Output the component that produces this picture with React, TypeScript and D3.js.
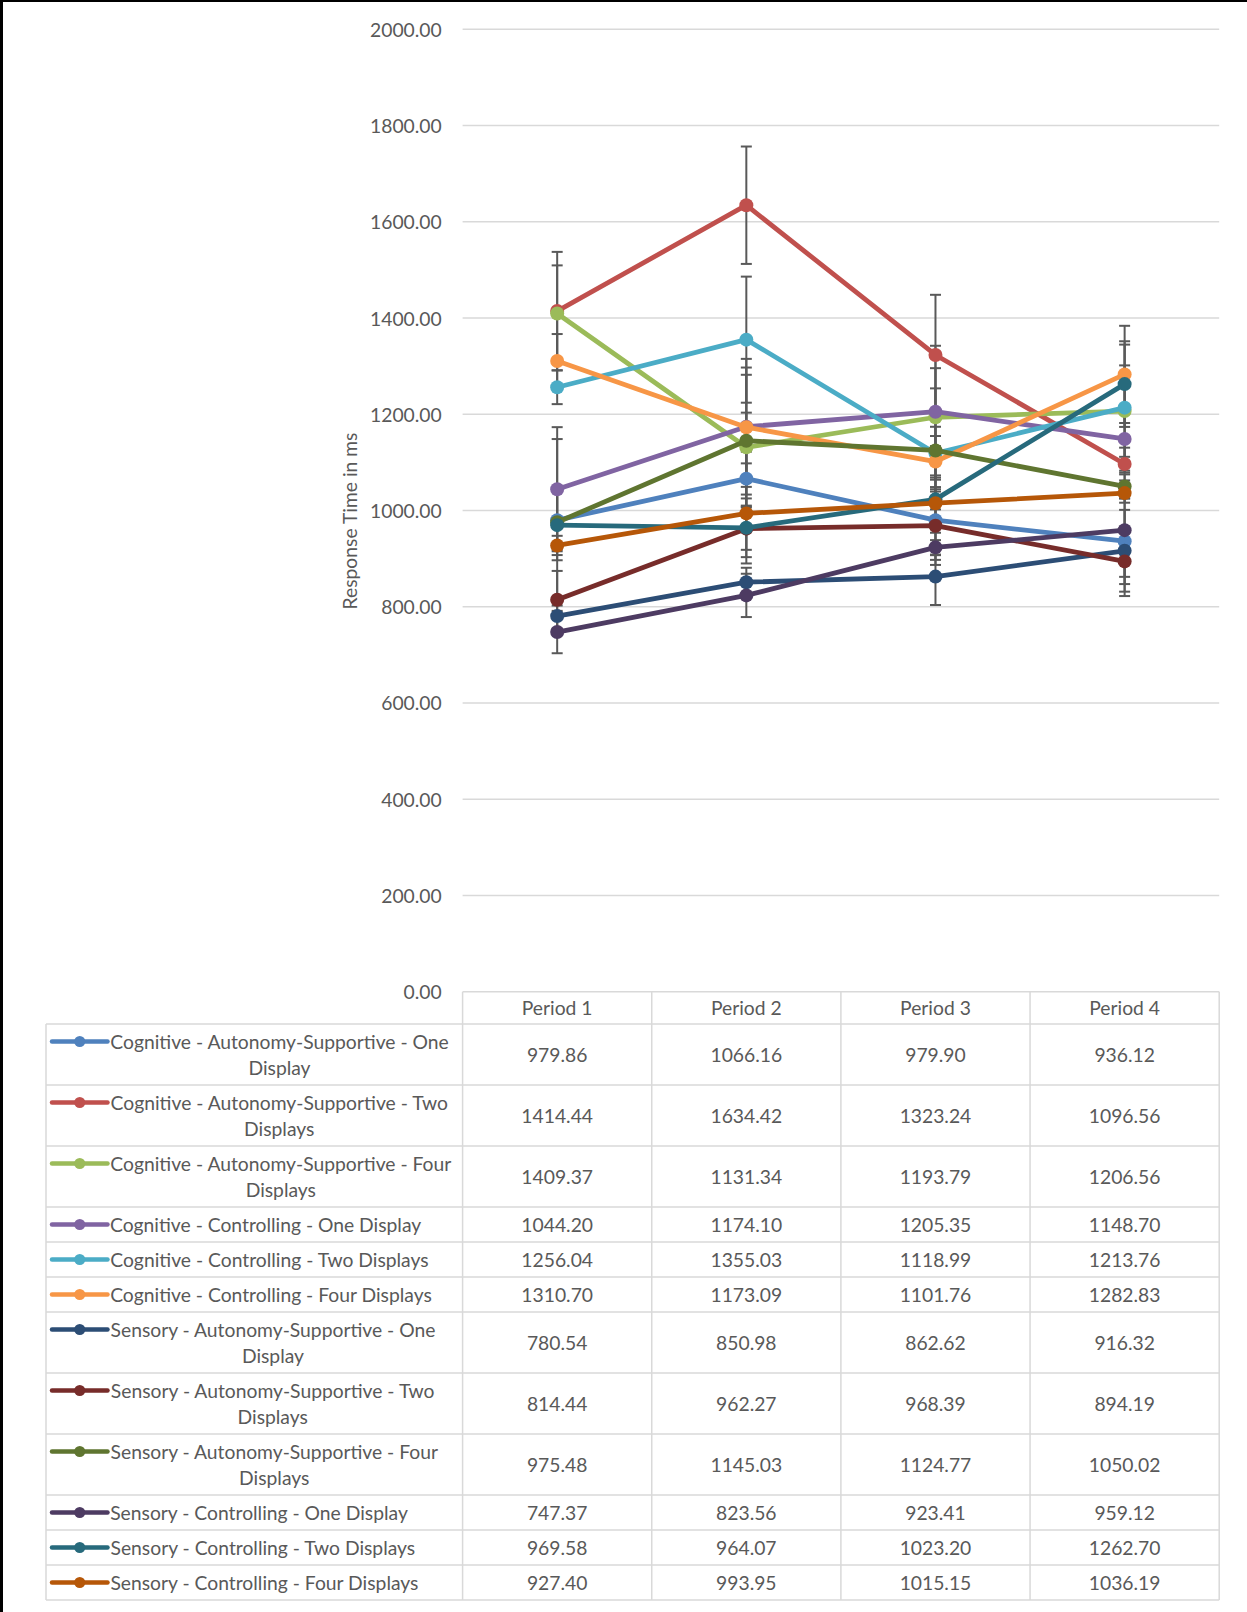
import React, { useMemo } from 'react';
import * as d3 from 'd3';

// Response-time means (ms) per period for each condition
const periods = ['Period 1', 'Period 2', 'Period 3', 'Period 4'];

const seriesNames = [
  'Cognitive - Autonomy-Supportive - One Display',
  'Cognitive - Autonomy-Supportive - Two Displays',
  'Cognitive - Autonomy-Supportive - Four Displays',
  'Cognitive - Controlling - One Display',
  'Cognitive - Controlling - Two Displays',
  'Cognitive - Controlling - Four Displays',
  'Sensory - Autonomy-Supportive - One Display',
  'Sensory - Autonomy-Supportive - Two Displays',
  'Sensory - Autonomy-Supportive - Four Displays',
  'Sensory - Controlling - One Display',
  'Sensory - Controlling - Two Displays',
  'Sensory - Controlling - Four Displays',
];

const seriesColors = [
  '#4F81BD', '#C0504D', '#9BBB59', '#8064A2', '#4BACC6', '#F79646',
  '#2C4D75', '#772C2A', '#5F7530', '#4D3B62', '#276A7C', '#B65708',
];

const cogAutOne = [979.86, 1066.16, 979.9, 936.12];
const cogAutTwo = [1414.44, 1634.42, 1323.24, 1096.56];
const cogAutFour = [1409.37, 1131.34, 1193.79, 1206.56];
const cogConOne = [1044.2, 1174.1, 1205.35, 1148.7];
const cogConTwo = [1256.04, 1355.03, 1118.99, 1213.76];
const cogConFour = [1310.7, 1173.09, 1101.76, 1282.83];
const senAutOne = [780.54, 850.98, 862.62, 916.32];
const senAutTwo = [814.44, 962.27, 968.39, 894.19];
const senAutFour = [975.48, 1145.03, 1124.77, 1050.02];
const senConOne = [747.37, 823.56, 923.41, 959.12];
const senConTwo = [969.58, 964.07, 1023.2, 1262.7];
const senConFour = [927.4, 993.95, 1015.15, 1036.19];

// Half-widths of the error bars (ms)
const errCogAutOne = [61, 56, 93, 89];
const errCogAutTwo = [123, 122, 125, 34];
const errCogAutFour = [100, 72, 60, 95];
const errCogConOne = [129, 141, 137, 70];
const errCogConTwo = [35, 131, 55, 131];
const errCogConFour = [56, 124, 53, 101];
const errSenAutOne = [30, 30, 59, 85];
const errSenAutTwo = [60, 44, 71, 72];
const errSenAutFour = [173, 137, 171, 25];
const errSenConOne = [44, 45, 15, 97];
const errSenConTwo = [73, 61, 21, 89];
const errSenConFour = [20, 104, 108, 20];

const seriesValues = [
  cogAutOne, cogAutTwo, cogAutFour, cogConOne, cogConTwo, cogConFour,
  senAutOne, senAutTwo, senAutFour, senConOne, senConTwo, senConFour,
];
const seriesErrors = [
  errCogAutOne, errCogAutTwo, errCogAutFour, errCogConOne, errCogConTwo, errCogConFour,
  errSenAutOne, errSenAutTwo, errSenAutFour, errSenConOne, errSenConTwo, errSenConFour,
];

const yTicks = [0, 200, 400, 600, 800, 1000, 1200, 1400, 1600, 1800, 2000];
const yTitle = 'Response Time in ms';

const W = 1247;
const H = 1612;
const FONT = 'Lato, "Open Sans", sans-serif';
const FONT_SIZE = 19.3;
const TEXT = '#595959';
const GRID = '#D9D9D9';

const plot = { left: 462.6, right: 1219.2, top: 29.3, bottom: 991.7 };
const tableLeft = 46;
const headerH = 32.3;
const lineH = 26;
const rowPad = 9;
const keyLeft = 52;
const keyRight = 107.5;
const textLeft = 110;
const labelWrapWidth = 350;

function wrapLabel(text: string, ctx: CanvasRenderingContext2D | null): { lines: string[]; width: number } {
  if (!ctx) return { lines: [text], width: labelWrapWidth };
  const words = text.split(' ');
  const lines: string[] = [];
  let cur = '';
  for (const w of words) {
    const trial = cur ? cur + ' ' + w : w;
    if (cur && ctx.measureText(trial).width > labelWrapWidth) {
      lines.push(cur);
      cur = w;
    } else {
      cur = trial;
    }
  }
  if (cur) lines.push(cur);
  const width = Math.max(...lines.map((l) => ctx.measureText(l).width));
  return { lines, width };
}

export default function App() {
  const x = d3.scaleBand<string>().domain(periods).range([plot.left, plot.right]);
  const cx = (p: string) => (x(p) as number) + x.bandwidth() / 2;
  const y = d3.scaleLinear().domain([0, 2000]).range([plot.bottom, plot.top]);

  const line = d3
    .line<number>()
    .x((_, i) => cx(periods[i]))
    .y((d) => y(d));

  const wrapped = useMemo(() => {
    const canvas = document.createElement('canvas');
    const ctx = canvas.getContext('2d');
    if (ctx) ctx.font = `${FONT_SIZE}px ${FONT}`;
    return seriesNames.map((n) => wrapLabel(n, ctx));
  }, []);

  // table row layout
  const rows: { top: number; h: number; lines: string[]; width: number }[] = [];
  let rowTop = plot.bottom + headerH;
  wrapped.forEach(({ lines, width }) => {
    const h = lines.length * lineH + rowPad;
    rows.push({ top: rowTop, h, lines, width });
    rowTop += h;
  });
  const tableBottom = rowTop;
  const colEdges = periods.map((p) => x(p) as number).concat([plot.right]);

  return (
    <svg
      width={W}
      height={H}
      style={{ position: 'absolute', left: 0, top: 0, display: 'block', background: '#fff' }}
      fontFamily={FONT}
    >
      <rect x={0} y={0} width={W} height={H} fill="#fff" />

      {/* gridlines and y-axis labels */}
      {yTicks.map((t) => (
        <g key={t}>
          {t > 0 && (
            <line x1={plot.left} x2={plot.right} y1={y(t)} y2={y(t)} stroke={GRID} strokeWidth={1.5} />
          )}
          <text
            x={441.7}
            y={y(t)}
            textAnchor="end"
            dominantBaseline="central"
            fontSize={FONT_SIZE}
            fill={TEXT}
          >
            {t.toFixed(2)}
          </text>
        </g>
      ))}

      <text
        transform={`translate(349.5,521) rotate(-90)`}
        textAnchor="middle"
        dominantBaseline="central"
        fontSize={FONT_SIZE}
        fill={TEXT}
      >
        {yTitle}
      </text>

      {/* error bars */}
      <g stroke="#595959" strokeWidth={2}>
        {seriesValues.map((vals, si) =>
          vals.map((v, i) => {
            const e = seriesErrors[si][i];
            const px = cx(periods[i]);
            const y1 = y(v + e);
            const y2 = y(v - e);
            return (
              <g key={`${si}-${i}`}>
                <line x1={px} x2={px} y1={y1} y2={y2} />
                <line x1={px - 5.5} x2={px + 5.5} y1={y1} y2={y1} />
                <line x1={px - 5.5} x2={px + 5.5} y1={y2} y2={y2} />
              </g>
            );
          })
        )}
      </g>

      {/* series lines and markers */}
      {seriesValues.map((vals, si) => (
        <g key={si}>
          <path
            d={line(vals) || ''}
            fill="none"
            stroke={seriesColors[si]}
            strokeWidth={4.8}
            strokeLinejoin="round"
            strokeLinecap="round"
          />
          {vals.map((v, i) => (
            <circle key={i} cx={cx(periods[i])} cy={y(v)} r={7} fill={seriesColors[si]} />
          ))}
        </g>
      ))}

      {/* data table */}
      <g stroke={GRID} strokeWidth={1.5} fill="none">
        <line x1={plot.left} x2={plot.right} y1={plot.bottom} y2={plot.bottom} />
        {rows.map((r, i) => (
          <line key={i} x1={tableLeft} x2={plot.right} y1={r.top} y2={r.top} />
        ))}
        <line x1={tableLeft} x2={plot.right} y1={tableBottom} y2={tableBottom} />
        <line x1={tableLeft} x2={tableLeft} y1={plot.bottom + headerH} y2={tableBottom} />
        {colEdges.map((cxe, i) => (
          <line key={i} x1={cxe} x2={cxe} y1={plot.bottom} y2={tableBottom} />
        ))}
      </g>

      {periods.map((p) => (
        <text
          key={p}
          x={cx(p)}
          y={plot.bottom + headerH / 2}
          textAnchor="middle"
          dominantBaseline="central"
          fontSize={FONT_SIZE}
          fill={TEXT}
        >
          {p}
        </text>
      ))}

      {rows.map((r, si) => {
        const firstLineY = r.top + rowPad / 2 + lineH / 2;
        const midY = r.top + r.h / 2;
        const keyMid = (keyLeft + keyRight) / 2;
        const blockCenter = textLeft + r.width / 2;
        return (
          <g key={si}>
            <line
              x1={keyLeft}
              x2={keyRight}
              y1={firstLineY}
              y2={firstLineY}
              stroke={seriesColors[si]}
              strokeWidth={4.5}
              strokeLinecap="round"
            />
            <circle cx={keyMid} cy={firstLineY} r={5.5} fill={seriesColors[si]} />
            {r.lines.map((ln, li) => (
              <text
                key={li}
                x={blockCenter}
                y={firstLineY + li * lineH}
                textAnchor="middle"
                dominantBaseline="central"
                fontSize={FONT_SIZE}
                fill={TEXT}
              >
                {ln}
              </text>
            ))}
            {seriesValues[si].map((v, i) => (
              <text
                key={i}
                x={cx(periods[i])}
                y={midY}
                textAnchor="middle"
                dominantBaseline="central"
                fontSize={FONT_SIZE}
                fill={TEXT}
              >
                {v.toFixed(2)}
              </text>
            ))}
          </g>
        );
      })}

      {/* outer frame edges */}
      <rect x={0} y={0} width={W} height={2} fill="#000" />
      <rect x={0} y={0} width={3} height={H} fill="#000" />
    </svg>
  );
}
